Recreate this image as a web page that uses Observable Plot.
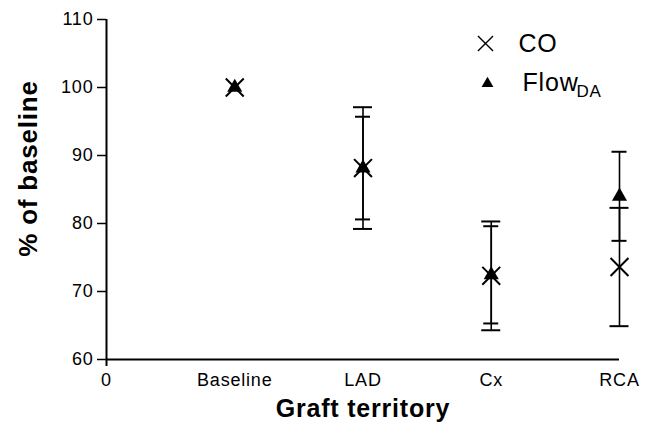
<!DOCTYPE html>
<html><head><meta charset="utf-8">
<script src="https://cdn.jsdelivr.net/npm/d3@7"></script>
<script src="https://cdn.jsdelivr.net/npm/@observablehq/plot@0.6"></script>
<style>
body{margin:0;background:#fff;}
#chart svg{font-family:"Liberation Sans",Arial,Helvetica,sans-serif;}
#chart svg text{letter-spacing:0.8px;}
</style></head><body><div id="chart"></div>
<script>
// x-axis ticks and labels
const tickPositions = [0, 1, 2, 3, 4];
const tickLabels = ["0", "Baseline", "LAD", "Cx", "RCA"];
// categories (graft territory) and their x positions
const categories = ["Baseline", "LAD", "Cx", "RCA"];
const categoryPos = [1, 2, 3, 4];
// CO: mean and error (% of baseline)
const coMean = [100, 88.15, 72.3, 73.6];
const coErr = [0, 8.95, 8.0, 8.7];
// FlowDA: mean and error (% of baseline)
const flowMean = [100, 88.15, 72.45, 84.0];
const flowErr = [0, 7.55, 7.15, 6.55];
// y-axis ticks
const yTicks = [60, 70, 80, 90, 100, 110];
// legend
const seriesNames = ["CO", "Flow"];
const seriesSub = ["", "DA"];

const rows = (means, errs) => categories.map((c, i) => ({
  cat: c, pos: categoryPos[i], mean: means[i], err: errs[i],
  lo: means[i] - errs[i], hi: means[i] + errs[i]
}));
const co = rows(coMean, coErr);
const flow = rows(flowMean, flowErr);
const coBars = co.filter(d => d.err > 0);
const flowBars = flow.filter(d => d.err > 0);

const chart = Plot.plot({
  width: 658,
  height: 443,
  marginLeft: 106,
  marginRight: 39,
  marginTop: 19,
  marginBottom: 84,
  style: {background: "#fff", color: "#000", overflow: "visible"},
  x: {domain: [0, 4]},
  y: {domain: [60, 110]},
  marks: [
    // axes
    Plot.axisY({ticks: yTicks, tickSize: 9, tickPadding: 4, fontSize: 18, label: null, strokeWidth: 1.5}),
    Plot.axisX({ticks: [0], tickSize: 7, tickFormat: () => "", label: null, strokeWidth: 2}),
    Plot.axisX({ticks: tickPositions, tickFormat: d => tickLabels[tickPositions.indexOf(d)], tickSize: 0, tickPadding: 14, fontSize: 18, label: null}),
    Plot.ruleY([60], {strokeWidth: 2}),
    Plot.ruleX([0], {y1: 60, y2: 110, strokeWidth: 2}),
    // error bars
    Plot.ruleX(coBars, {x: "pos", y1: "lo", y2: "hi", strokeWidth: 1.6}),
    Plot.ruleX(flowBars, {x: "pos", y1: "lo", y2: "hi", strokeWidth: 1.6}),
    Plot.ruleY(coBars, {y: "hi", x1: "pos", x2: "pos", insetLeft: -9.5, insetRight: -9.5, strokeWidth: 2}),
    Plot.ruleY(coBars, {y: "lo", x1: "pos", x2: "pos", insetLeft: -9.5, insetRight: -9.5, strokeWidth: 2}),
    Plot.ruleY(flowBars, {y: "hi", x1: "pos", x2: "pos", insetLeft: -7.5, insetRight: -7.5, strokeWidth: 2}),
    Plot.ruleY(flowBars, {y: "lo", x1: "pos", x2: "pos", insetLeft: -7.5, insetRight: -7.5, strokeWidth: 2}),
    // markers
    Plot.dot(flow, {x: "pos", y: "mean", symbol: "triangle", r: 5.6, fill: "#000", stroke: "none"}),
    Plot.dot(co, {x: "pos", y: "mean", symbol: "times", r: 8.2, stroke: "#000", strokeWidth: 2}),
    // axis titles
    Plot.text(["% of baseline"], {frameAnchor: "left", dx: -78, dy: -21, rotate: -90, fontSize: 26, fontWeight: "bold", textAnchor: "middle", lineAnchor: "middle"}),
    Plot.text(["Graft territory"], {frameAnchor: "bottom", dy: 49, fontSize: 25, fontWeight: "bold", textAnchor: "middle", lineAnchor: "middle"}),
    // legend
    Plot.dot([seriesNames[0]], {frameAnchor: "top-left", dx: 379, dy: 24, symbol: "times", r: 6.9, stroke: "#000", strokeWidth: 1.4}),
    Plot.dot([seriesNames[1]], {frameAnchor: "top-left", dx: 381, dy: 64, symbol: "triangle", r: 4.4, fill: "#000", stroke: "none"}),
    Plot.text([seriesNames[0]], {frameAnchor: "top-left", dx: 412, dy: 24, fontSize: 25, textAnchor: "start", lineAnchor: "middle"}),
    Plot.text([seriesNames[1]], {frameAnchor: "top-left", dx: 416, dy: 63, fontSize: 25, textAnchor: "start", lineAnchor: "middle"}),
    Plot.text([seriesSub[1]], {frameAnchor: "top-left", dx: 470, dy: 72, fontSize: 17, textAnchor: "start", lineAnchor: "middle"})
  ]
});
document.getElementById("chart").appendChild(chart);
</script></body></html>
